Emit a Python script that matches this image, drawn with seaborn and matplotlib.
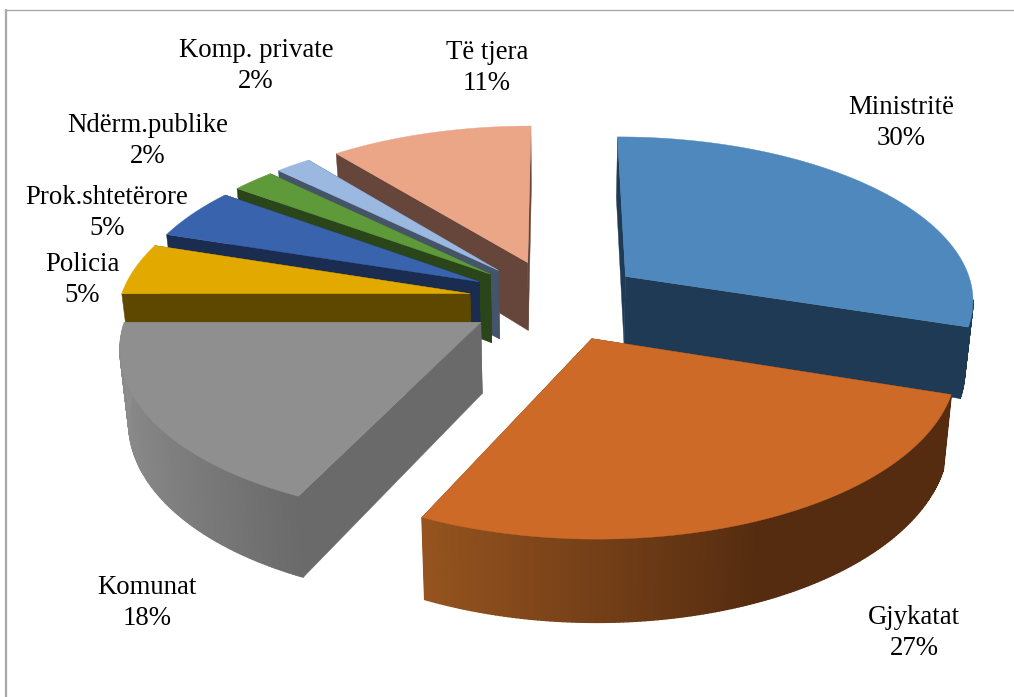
import numpy as np
import matplotlib
matplotlib.use('Agg')
import matplotlib.pyplot as plt
import matplotlib.colors as mc
import seaborn as sns

sns.set_theme(style='white')
plt.rcParams['font.family'] = ['Liberation Serif', 'DejaVu Serif']

labels = ['Ministritë', 'Gjykatat', 'Komunat', 'Policia', 'Prok.shtetërore',
          'Ndërm.publike', 'Komp. private', 'Të tjera']
values = [30, 27, 18, 5, 5, 2.3, 1.9, 10.8]
top_colors = ['#4f88bd', '#cd6a28', '#8f8f8f', '#e2a900', '#3a63ad', '#5f9a3a', '#9ab8e0', '#eba688']
cut_colors = ['#1f3a55', '#552c10', '#6a6a6a', '#5e4800', '#1a2c50', '#2a4519', '#455468', '#66463a']
wall_left = ['#1f3a55', '#96541f', '#8c8c8c', '#5e4800', '#1a2c50', '#2a4519', '#455468', '#66463a']
wall_right = ['#1f3a55', '#552c10', '#6a6a6a', '#5e4800', '#1a2c50', '#2a4519', '#455468', '#66463a']
wall_stop = [1, 0.6, 1, 1, 1, 1, 1, 1]
label_pos = [(901, 123), (914, 633), (147, 603), (82, 280), (107, 213), (148, 141), (256, 66), (487, 68)]
draw_order = [7, 6, 5, 4, 3, 0, 2, 1]

CX, CY = 556, 300
RX, RY = 350, 163.4
PERSP = 0.13
EXPLODE = 0.25
DEPTH = 70


def project(x, y, z=0.0):
    w = 1 / (1 + PERSP * y)
    sx = RX * x * w * (1 - 0.02 * z)
    sy = RY * y * w - DEPTH * w * z
    return CX + sx, CY - sy


fig, ax = plt.subplots(figsize=(10.14, 6.97), dpi=100)
ax.set_position([0, 0, 1, 1])
ax.set_xlim(0, 1014)
ax.set_ylim(697, 0)
ax.axis('off')

# outer frame
ax.plot([6, 6], [697, 10], color='#a8a8a8', lw=1.6)
ax.plot([5, 1014], [9.5, 9.5], color='#a8a8a8', lw=1)

fracs = np.array(values) / sum(values)
edges = np.concatenate([[0], np.cumsum(fracs)]) * 2 * np.pi

for i in draw_order:
    a0, a1 = edges[i], edges[i + 1]
    mid = (a0 + a1) / 2
    ox, oy = EXPLODE * np.sin(mid), EXPLODE * np.cos(mid)
    th = np.linspace(a0, a1, max(8, int(values[i] * 6)))
    xs = ox + np.sin(th)
    ys = oy + np.cos(th)

    # the two cut faces, further one first
    faces = [(xs[0], ys[0]), (xs[-1], ys[-1])]
    faces.sort(key=lambda p: -p[1])
    for fx, fy in faces:
        pts = [project(ox, oy, 0), project(fx, fy, 0), project(fx, fy, 1), project(ox, oy, 1)]
        ax.fill(*zip(*pts), color=cut_colors[i], lw=0.3, zorder=2)

    # outer wall, front half only
    left = np.array(mc.to_rgb(wall_left[i]))
    right = np.array(mc.to_rgb(wall_right[i]))
    for j in range(len(th) - 1):
        if ys[j] > 0 and ys[j + 1] > 0:
            continue
        t = (xs[j] - xs.min()) / (np.ptp(xs) + 1e-9)
        t = min(t / wall_stop[i], 1)
        col = left + (right - left) * t
        pts = [project(xs[j], ys[j], 0), project(xs[j + 1], ys[j + 1], 0),
               project(xs[j + 1], ys[j + 1], 1), project(xs[j], ys[j], 1)]
        ax.fill(*zip(*pts), color=col, lw=1.0, zorder=2)

    # top face
    pts = [project(ox, oy, 0)] + [project(a, b, 0) for a, b in zip(xs, ys)]
    ax.fill(*zip(*pts), color=top_colors[i], lw=0.3, zorder=2)

for name, v, (lx, ly) in zip(labels, values, label_pos):
    ax.text(lx, ly, f'{name}\n{round(v)}%', ha='center', va='center', fontsize=19.3,
            color='black', linespacing=1.3, zorder=3)

fig.savefig('out.png', dpi=100)
